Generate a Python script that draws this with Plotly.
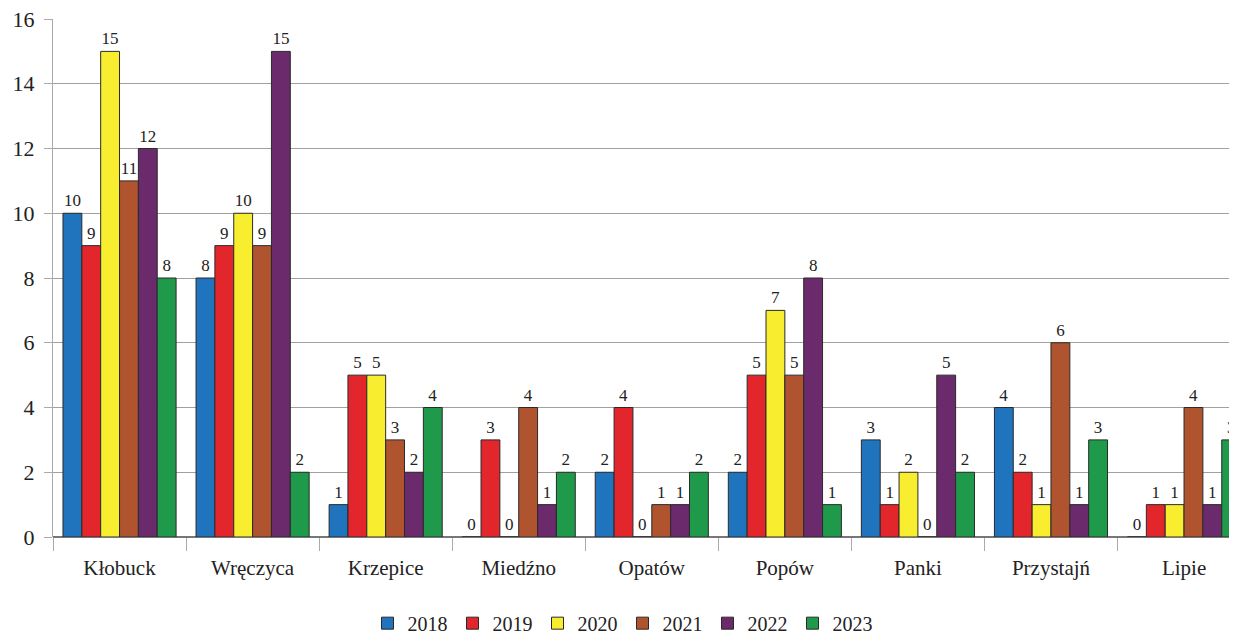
import plotly.graph_objects as go

categories = ["Kłobuck", "Wręczyca", "Krzepice", "Miedźno", "Opatów", "Popów", "Panki", "Przystajń", "Lipie"]
years = ["2018", "2019", "2020", "2021", "2022", "2023"]
v2018 = [10, 8, 1, 0, 2, 2, 3, 4, 0]
v2019 = [9, 9, 5, 3, 4, 5, 1, 2, 1]
v2020 = [15, 10, 5, 0, 0, 7, 2, 1, 1]
v2021 = [11, 9, 3, 4, 1, 5, 0, 6, 4]
v2022 = [12, 15, 2, 1, 1, 8, 5, 1, 1]
v2023 = [8, 2, 4, 2, 2, 1, 2, 3, 3]
series = [v2018, v2019, v2020, v2021, v2022, v2023]
colors = ["#1f74bd", "#e3262b", "#f8ee2f", "#b0542f", "#6b2a6b", "#1f9a4b"]

FONT = "Liberation Serif"

fig = go.Figure()
for name, vals, col in zip(years, series, colors):
    fig.add_trace(go.Bar(
        x=categories, y=vals, name=name,
        marker=dict(color=col, line=dict(color="#2a2a2a", width=1)),
        text=[str(v) for v in vals], textposition="outside",
        textfont=dict(family=FONT, size=17, color="#222"),
        cliponaxis=False,
    ))

# the page body adds an 8px margin; size the figure so it ends at the window edge
fig.update_layout(
    width=1229, height=629,
    barmode="group", bargap=0.15, bargroupgap=0,
    plot_bgcolor="white", paper_bgcolor="white",
    margin=dict(l=45, r=0, t=11, b=100, autoexpand=False),
    font=dict(family=FONT, size=19, color="#222"),
    showlegend=True,
    legend=dict(orientation="h", xref="container", x=0.5, xanchor="center",
                yref="container", y=0.022, yanchor="middle",
                font=dict(family=FONT, size=20), itemwidth=30, tracegroupgap=0),
    uniformtext=dict(minsize=14, mode="show"),
)
fig.update_xaxes(
    range=[-0.5, 8.398], showgrid=False, showline=False, automargin=False,
    ticks="outside", tickson="boundaries", ticklen=13, tickcolor="#aaa",
    ticklabelstandoff=16,
    tickfont=dict(family=FONT, size=21), zeroline=False,
)
fig.update_yaxes(
    range=[0, 16], dtick=2, showgrid=True, gridcolor="#a0a0a0",
    gridwidth=1, showline=True, linecolor="#aaa", linewidth=1, automargin=False,
    ticks="outside", ticklen=8, tickcolor="#aaa", ticklabelstandoff=5,
    ticklabeloverflow="allow",
    tickfont=dict(family=FONT, size=22), zeroline=True, zerolinecolor="#777",
)
fig.write_html("out.html")
